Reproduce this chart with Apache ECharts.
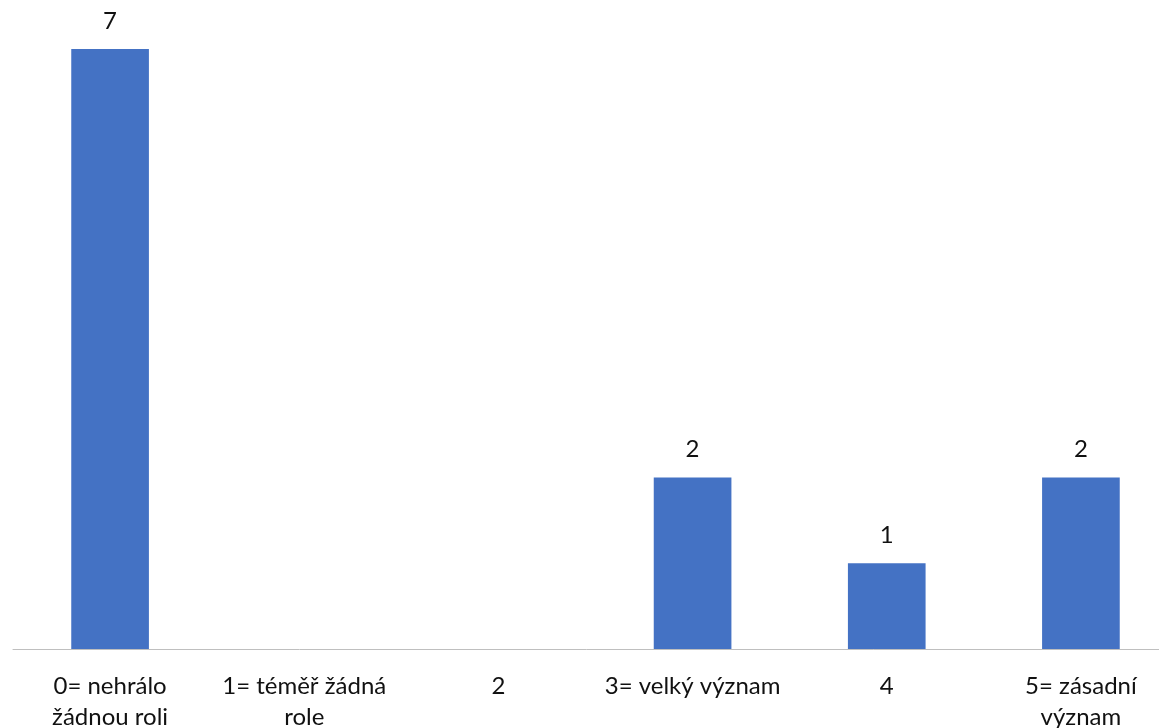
<!DOCTYPE html>
<html>
<head>
<meta charset="utf-8">
<script src="https://cdn.jsdelivr.net/npm/echarts@6/dist/echarts.min.js"></script>
<style>
  html, body { margin: 0; padding: 0; background: #fff; }
  #chart { width: 1159px; height: 728px; }
</style>
</head>
<body>
<div id="chart"></div>
<script>
// Rating categories (line breaks as shown under the axis)
const categories = [
  '0= nehrálo\nžádnou roli',
  '1= téměř žádná\nrole',
  '2',
  '3= velký význam',
  '4',
  '5= zásadní\nvýznam'
];
// Number of responses per rating
const counts = [7, 0, 0, 2, 1, 2];

const FONT = 'Lato, "Open Sans", sans-serif';

const chart = echarts.init(document.getElementById('chart'), null, { renderer: 'canvas' });
chart.setOption({
  animation: false,
  backgroundColor: '#ffffff',
  // plot area runs past the right edge of the canvas
  grid: {
    left: 13, width: 1165, top: 49, height: 600,
    containLabel: false,
    outerBoundsMode: 'none'
  },
  xAxis: {
    type: 'category',
    data: categories,
    axisLine: { show: true, lineStyle: { color: '#bfbfbf', width: 1 } },
    axisTick: { show: false },
    axisLabel: {
      interval: 0,
      margin: 22,
      color: '#111111',
      fontFamily: FONT,
      fontSize: 24,
      lineHeight: 31,
      align: 'center'
    }
  },
  yAxis: {
    type: 'value',
    min: 0,
    max: 7,
    show: false,
    splitLine: { show: false }
  },
  series: [{
    type: 'bar',
    data: counts.map(v => (v === 0 ? null : v)),
    barWidth: '40%',
    itemStyle: { color: '#4472C4' },
    label: {
      show: true,
      position: 'top',
      distance: 16,
      color: '#111111',
      fontFamily: FONT,
      fontSize: 24
    }
  }]
});
</script>
</body>
</html>
